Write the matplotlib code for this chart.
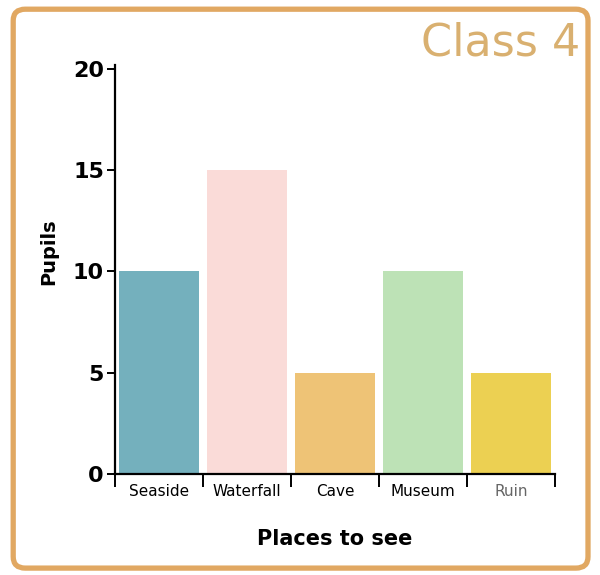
import matplotlib
matplotlib.use('Agg')
import matplotlib.pyplot as plt
from matplotlib.patches import FancyBboxPatch

# Data
places = ["Seaside", "Waterfall", "Cave", "Museum", "Ruin"]
pupils = [10, 15, 5, 10, 5]
bar_colors = ["#74b0bd", "#fadbd8", "#eec376", "#bde2b6", "#ecd052"]
y_ticks = [0, 5, 10, 15, 20]

fig = plt.figure(figsize=(6, 5.75), dpi=100)
fig.patch.set_facecolor("white")

# Orange rounded frame around the whole card
frame = FancyBboxPatch((0.022, 0.012), 0.958, 0.972,
                       boxstyle="round,pad=0,rounding_size=0.02",
                       transform=fig.transFigure, facecolor="none",
                       edgecolor="#e1a862", linewidth=3.8, zorder=5)
fig.patches.append(frame)

ax = fig.add_axes([0.1917, 0.1757, 0.7333, 0.7043])
ax.set_facecolor("none")

x = range(len(places))
ax.bar(x, pupils, width=0.9, color=bar_colors, zorder=2)

ax.set_xlim(-0.5, 4.5)
ax.set_ylim(0, 20)

for side in ["top", "right"]:
    ax.spines[side].set_visible(False)
ax.spines["left"].set_linewidth(1.6)
ax.spines["bottom"].set_linewidth(1.6)
ax.spines["left"].set_zorder(3)
ax.spines["bottom"].set_zorder(3)
ax.spines["left"].set_bounds(0, 20.2)

ax.set_yticks(y_ticks)
ax.set_yticklabels([str(v) for v in y_ticks], fontsize=16, fontweight="bold")
ax.tick_params(axis="y", length=6, width=1.4, pad=2)

# category labels in the middle, ticks at the boundaries
ax.set_xticks(list(x))
ax.set_xticklabels(places, fontsize=11)
ax.tick_params(axis="x", which="major", length=0, pad=7)
ax.set_xticks([i - 0.5 for i in range(len(places) + 1)], minor=True)
ax.tick_params(axis="x", which="minor", direction="out", length=9, width=1.4)
ax.get_xticklabels()[-1].set_color("#666666")

ax.set_xlabel("Places to see", fontsize=15, fontweight="bold")
ax.xaxis.set_label_coords(0.5, -0.135)
ax.set_ylabel("Pupils", fontsize=14, fontweight="bold")
ax.yaxis.set_label_coords(-0.13, 0.55)

fig.text(0.967, 0.925, "Class 4", ha="right", va="center",
         fontsize=32, color="#d9b070")

fig.savefig("out.png", dpi=100)
